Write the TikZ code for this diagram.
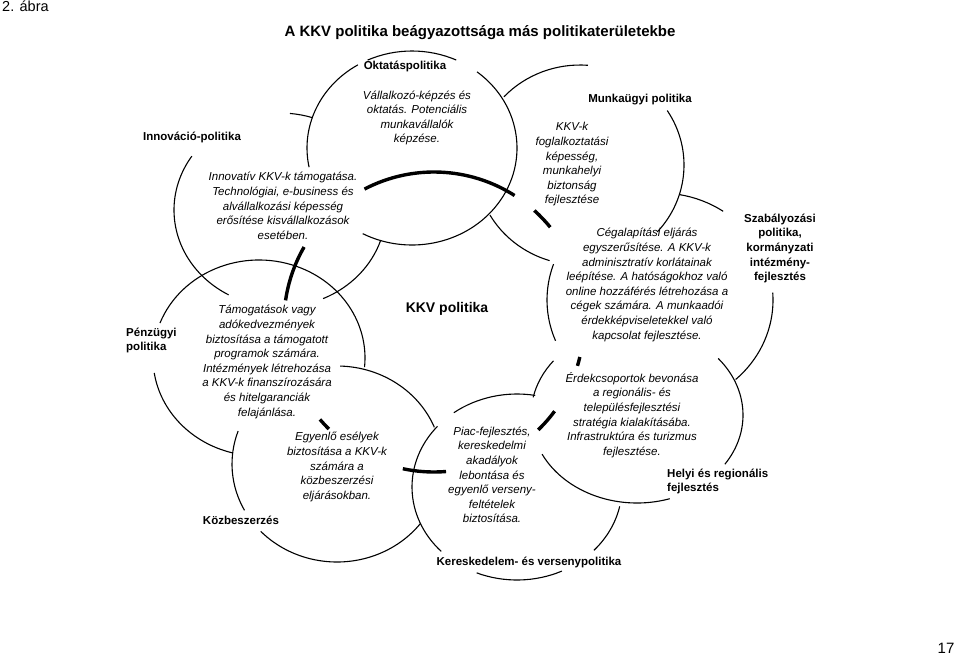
\documentclass[tikz,border=0pt]{standalone}
\usepackage{fontspec}
\setmainfont{Liberation Sans}
\usetikzlibrary{positioning}
\tikzstyle{rim} = [line width=1.1pt]
\tikzstyle{core} = [line width=3.4pt]
\tikzstyle{area} = [font=\bfseries\fontsize{11.5}{14.7}\selectfont,inner sep=0]
\tikzstyle{note} = [font=\itshape\fontsize{11.5}{14.6}\selectfont,align=center,inner sep=0]
\def \kr {150}

\begin{document}
\begin{tikzpicture}[x=1pt,y=-1pt]
      \path[use as bounding box,fill=white] (0,0) rectangle (960,656);
      \coordinate (okt) at (412,148);
      \coordinate (mun) at (580,165);
      \coordinate (sza) at (660,300);
      \coordinate (hel) at (637,415);
      \coordinate (ker) at (517,487);
      \coordinate (koz) at (337,464);
      \coordinate (penz) at (259,358);
      \coordinate (inn) at (280,210);
      \coordinate (core) at (434,322);
      \foreach \a/\b in {-51.7/118,168.6/239,245/294.9}
        \draw[rim] (okt) ++(\a:105 and 97) arc[start angle=\a,end angle=\b,x radius=105,y radius=97];
      \foreach \a/\b in {-137/-85.6,-33/42,107/150}
        \draw[rim] (mun) ++(\a:104 and 100) arc[start angle=\a,end angle=\b,x radius=104,y radius=100];
      \foreach \a/\b in {-80/-56,-4/48,157.6/199.6}
        \draw[rim] (sza) ++(\a:113 and 107) arc[start angle=\a,end angle=\b,x radius=113,y radius=107];
      \foreach \a/\b in {-40/34,72/153.6,191.6/218}
        \draw[rim] (hel) ++(\a:106 and 88) arc[start angle=\a,end angle=\b,x radius=106,y radius=88];
      \foreach \a/\b in {12/42.9,64.7/112.6,136.2/220.7,233/280}
        \draw[rim] (ker) ++(\a:105 and 93) arc[start angle=\a,end angle=\b,x radius=105,y radius=93];
      \foreach \a/\b in {37.5/136.6,151.8/199.7,271.7/338}
        \draw[rim] (koz) ++(\a:105 and 98) arc[start angle=\a,end angle=\b,x radius=105,y radius=98];
      \foreach \a/\b in {104.5/171.2,200.9/365.3}
        \draw[rim] (penz) ++(\a:106 and 98) arc[start angle=\a,end angle=\b,x radius=106,y radius=98];
      \foreach \a/\b in {18.1/66,119/213.7,275.4/288}
        \draw[rim] (inn) ++(\a:106 and 97) arc[start angle=\a,end angle=\b,x radius=106,y radius=97];
      \foreach \a/\b in {-57.5/-117.6,-39.2/-48,13.5/17,36.5/46,85.4/102,134.5/139.5,-171.7/-150}
        \draw[core] (core) ++(\a:\kr) arc[start angle=\a,end angle=\b,radius=\kr];
      \node[anchor=west,font=\fontsize{14.5}{17}\selectfont,inner sep=0] (abra) at (2,6.5) {2. ábra};
      \node[font=\bfseries\fontsize{15}{18}\selectfont,inner sep=0] (title) at (480,33) {A KKV politika beágyazottsága más politikaterületekbe};
      \node[font=\fontsize{15}{18}\selectfont,inner sep=0] (page) at (946,648) {17};
      \node[area,font=\bfseries\fontsize{14}{16}\selectfont] (kkv) at (447,309) {KKV politika};
      \node[area] (oktlbl) at (405,66) {Oktatáspolitika};
      \node[area] (munlbl) at (640,100) {Munkaügyi politika};
      \node[area,align=center] (szalbl) at (780,248.5) {Szabályozási\\politika,\\kormányzati\\intézmény-\\fejlesztés};
      \node[area,align=left,anchor=west] (hellbl) at (667,481.5) {Helyi és regionális\\fejlesztés};
      \node[area] (kerlbl) at (529,562) {Kereskedelem- és versenypolitika};
      \node[area] (kozlbl) at (241,520) {Közbeszerzés};
      \node[area,align=left,anchor=west] (penzlbl) at (126,340.5) {Pénzügyi\\politika};
      \node[area] (innlbl) at (192,137) {Innováció-politika};
      \node[note] (oktnote) at (417,118) {Vállalkozó-képzés és\\oktatás. Potenciális\\munkavállalók\\képzése.};
      \node[note] (innnote) at (283,206) {Innovatív KKV-k támogatása.\\Technológiai, e-business és\\alvállalkozási képesség\\erősítése kisvállalkozások\\esetében.};
      \node[note] (munnote) at (572,164.5) {KKV-k\\foglalkoztatási\\képesség,\\munkahelyi\\biztonság\\fejlesztése};
      \node[note] (szanote) at (647,285) {Cégalapítási eljárás\\egyszerűsítése. A KKV-k\\adminisztratív korlátainak\\leépítése. A hatóságokhoz való\\online hozzáférés létrehozása a\\cégek számára. A munkaadói\\érdekképviseletekkel való\\kapcsolat fejlesztése.};
      \node[note] (helnote) at (632,415) {Érdekcsoportok bevonása\\a regionális- és\\településfejlesztési\\stratégia kialakításába.\\Infrastruktúra és turizmus\\fejlesztése.};
      \node[note] (kernote) at (492,475) {Piac-fejlesztés,\\kereskedelmi\\akadályok\\lebontása és\\egyenlő verseny-\\feltételek\\biztosítása.};
      \node[note] (koznote) at (337,467) {Egyenlő esélyek\\biztosítása a KKV-k\\számára a\\közbeszerzési\\eljárásokban.};
      \node[note] (penznote) at (267,362) {Támogatások vagy\\adókedvezmények\\biztosítása a támogatott\\programok számára.\\Intézmények létrehozása\\a KKV-k finanszírozására\\és hitelgaranciák\\felajánlása.};
    \end{tikzpicture}
\end{document}
